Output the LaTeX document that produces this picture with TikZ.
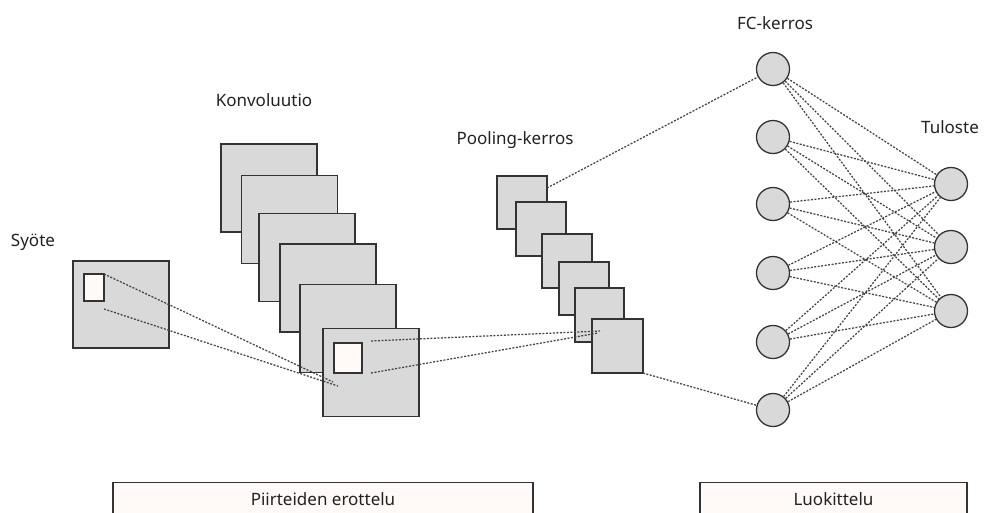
\documentclass[tikz,border=0pt]{standalone}
\usepackage{fontspec}
\setmainfont{Noto Sans}
\usetikzlibrary{calc}
\definecolor{boxgray}{HTML}{D9D9D9}
\definecolor{edgecol}{HTML}{333333}
\definecolor{dotcol}{HTML}{444444}
\definecolor{paper}{HTML}{FFF9F8}
\definecolor{txt}{HTML}{222222}
\tikzset{
  sq/.style={draw=edgecol, line width=1.3pt, fill=boxgray, inner sep=0pt, outer sep=0pt},
  win/.style={draw=edgecol, line width=1.3pt, fill=paper, inner sep=0pt, outer sep=0pt},
  neuron/.style={circle, draw=edgecol, line width=1.3pt, fill=boxgray, minimum size=33pt, inner sep=0pt},
  conn/.style={dotcol, line width=1.25pt, dash pattern=on 2pt off 1.5pt},
  lbl/.style={font=\fontsize{17}{20}\selectfont, text=txt, inner sep=0pt, anchor=base},
  sect/.style={draw=edgecol, line width=1.1pt, fill=paper, inner sep=0pt, font=\fontsize{17}{20}\selectfont, text=txt, text height=12.2pt, text depth=0pt}
}
\begin{document}
\begin{tikzpicture}[x=1pt,y=-1pt]
\useasboundingbox (0,0) rectangle (985,512);
\fill[white] (0,0) rectangle (985,512);

% labels
\node[lbl] (lsy) at (33,246) {Syöte};
\node[lbl] (lko) at (264,106) {Konvoluutio};
\node[lbl] (lpo) at (515,144) {Pooling-kerros};
\node[lbl] (lfc) at (775,29) {FC-kerros};
\node[lbl] (ltu) at (950,133) {Tuloste};

% input
\node[sq, minimum width=96pt, minimum height=87pt] (in) at (121,304.5) {};
\node[win, minimum width=20pt, minimum height=27pt] (inw) at (94,287.5) {};

% convolution stack
\node[sq, minimum width=96pt, minimum height=88pt] (c1) at (269,188) {};
\node[sq, minimum width=96pt, minimum height=88pt] (c2) at (289.5,219.5) {};
\node[sq, minimum width=96pt, minimum height=88pt] (c3) at (307,257.5) {};
\node[sq, minimum width=96pt, minimum height=88pt] (c4) at (328,288) {};
\node[sq, minimum width=96pt, minimum height=88pt] (c5) at (348,328.5) {};
\node[sq, minimum width=96pt, minimum height=88pt] (c6) at (371,372.5) {};
\node[win, minimum width=28pt, minimum height=30pt] (cw) at (348,358) {};

% pooling stack
\node[sq, minimum width=50pt, minimum height=53pt] (p1) at (522,202.5) {};
\node[sq, minimum width=50pt, minimum height=54pt] (p2) at (541,229) {};
\node[sq, minimum width=50pt, minimum height=54pt] (p3) at (567,261) {};
\node[sq, minimum width=50pt, minimum height=53pt] (p4) at (584,288.5) {};
\node[sq, minimum width=49pt, minimum height=54pt] (p5) at (599.5,315) {};
\node[sq, minimum width=51pt, minimum height=54pt] (p6) at (617.5,346) {};

% FC layer
\foreach \i/\y in {1/69,2/137,3/204,4/273,5/342,6/410} {
  \node[neuron] (f\i) at (773,\y) {};
}
% output layer
\foreach \j/\y in {1/184,2/247,3/311} {
  \node[neuron] (o\j) at (951,\y) {};
}

% FC to output connections
\foreach \i in {1,...,6} {
  \foreach \j in {1,2,3} {
    \draw[conn] (f\i) -- (o\j);
  }
}

% pooling to FC
\coordinate (p1a) at ($(p1.north east)+(0,12)$);
\draw[conn] (p1a) -- (f1);
\draw[conn] (p6.south east) -- (f6);

% input to convolution
\coordinate (ia) at (inw.north east);
\coordinate (ib) at ($(inw.south east)+(0,8)$);
\coordinate (ca) at (333,382);
\coordinate (cb) at (338,386);
\draw[conn] (ia) -- (ca);
\draw[conn] (ib) -- (cb);

% convolution to pooling
\coordinate (cc) at ($(cw.north east)+(9,-2)$);
\coordinate (cd) at ($(cw.south east)+(9,0)$);
\coordinate (pa) at (600,331);
\coordinate (pb) at (598,333);
\draw[conn] (cc) -- (pa);
\draw[conn] (cd) -- (pb);

% section boxes
\node[sect, minimum width=420pt, minimum height=34pt] (fe) at (323,499.5) {Piirteiden erottelu};
\node[sect, minimum width=267pt, minimum height=34pt] (cl) at (833.5,499.5) {Luokittelu};
\end{tikzpicture}
\end{document}
